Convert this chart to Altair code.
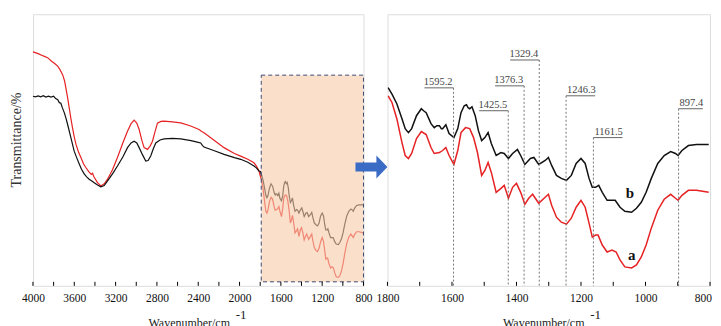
import altair as alt
import pandas as pd

# ---------------- data (wavenumber / cm-1, transmittance in arbitrary units) -------------
wn_b = [4000, 3975, 3950, 3925, 3900, 3875, 3850, 3826, 3800, 3780, 3760, 3745, 3730, 3715,
        3697, 3680, 3665, 3633, 3601, 3575, 3552, 3530, 3504, 3480, 3456, 3430, 3407, 3375,
        3343, 3310, 3278, 3230, 3182, 3130, 3085, 3050, 3021, 2995, 2972, 2940, 2908, 2885,
        2859, 2835, 2811, 2770, 2730, 2650, 2569, 2470, 2400, 2376, 2360, 2344, 2250, 2150,
        2050, 1989, 1920, 1860, 1835, 1812,
        1798, 1786, 1771, 1755, 1745, 1735, 1725, 1710, 1695, 1688, 1680, 1665, 1655, 1647,
        1639, 1633, 1629, 1619, 1609, 1594, 1582, 1572, 1562, 1555, 1550, 1545, 1538, 1528,
        1518, 1508, 1498, 1488, 1478, 1463, 1448, 1438, 1425, 1412, 1397, 1387, 1374, 1357,
        1346, 1331, 1311, 1301, 1291, 1276, 1261, 1245, 1230, 1215, 1200, 1187, 1175, 1165,
        1155, 1145, 1134, 1119, 1104, 1094, 1079, 1064, 1043, 1028, 1013, 998, 982, 962,
        942, 922, 907, 899, 887, 867, 842, 804]
t_b = [328, 327, 328.5, 327, 329, 326.5, 328, 326.5, 328, 324, 322, 317, 316, 308,
       300, 290, 280, 257, 234, 222, 212, 203, 195, 190, 186, 183, 180, 176,
       173, 175, 183, 195, 208.5, 224, 240, 248, 251, 248, 240, 228, 217, 218,
       226, 238, 248, 253, 255, 256, 255, 252, 249, 248, 244, 241, 235, 228.5,
       223, 220, 215, 208.5, 205, 200,
       199.3, 192.7, 183, 168, 158, 154, 158, 171, 178, 176, 174, 163, 159, 161,
       161, 158, 158, 162, 153, 149, 158, 174, 181, 182, 179, 178, 180, 171,
       156, 146, 149, 154, 143, 131, 134, 133, 128, 133, 137, 131, 122, 128,
       129, 122, 126, 129, 121, 111, 108, 106, 111, 123, 128, 123, 108, 99,
       99, 101, 94, 86, 86, 86, 79, 75, 74, 78, 84, 94, 108, 123,
       131, 135, 133, 131, 136, 141, 142, 142]

wn_a = [4000, 3950, 3900, 3858, 3820, 3790, 3761, 3740, 3713, 3695, 3681, 3665, 3649, 3633,
        3617, 3600, 3584, 3560, 3536, 3510, 3488, 3460, 3435, 3423, 3410, 3375, 3343, 3310,
        3278, 3230, 3182, 3130, 3085, 3050, 3021, 2995, 2972, 2945, 2924, 2891, 2865, 2843,
        2820, 2795, 2760, 2730, 2650, 2569, 2473, 2392, 2370, 2344, 2250, 2150, 2050, 1989,
        1920, 1860, 1835, 1812,
        1798, 1786, 1771, 1755, 1745, 1735, 1725, 1710, 1695, 1680, 1665, 1655, 1639, 1629,
        1619, 1609, 1594, 1582, 1572, 1558, 1545, 1533, 1521, 1508, 1498, 1488, 1478, 1463,
        1448, 1438, 1425, 1412, 1400, 1387, 1374, 1362, 1350, 1331, 1311, 1301, 1291, 1276,
        1261, 1245, 1230, 1215, 1200, 1187, 1175, 1165, 1155, 1147, 1134, 1119, 1104, 1091,
        1079, 1064, 1043, 1028, 1013, 998, 982, 962, 942, 922, 907, 899, 887, 867, 842, 804]
t_a = [404, 401, 397, 394, 388, 384, 379.5, 374, 365, 355, 342, 326, 308, 290,
       274, 258, 246, 233, 223, 212, 206, 199, 194, 196, 190, 180, 174.5, 178,
       186, 202, 223, 248, 268, 281, 287, 282, 271, 252, 240, 237, 243, 251,
       266, 282, 285, 285.5, 284, 282.5, 277, 271, 268, 265.5, 253, 240, 230, 225.5,
       220, 214, 208, 200,
       191, 184.3, 168, 144, 131, 128, 133, 148, 155, 152, 139, 133, 134, 136,
       139, 131, 122, 136, 154, 159, 158, 149, 134, 111, 116, 124, 114, 94,
       98, 101, 88, 99, 103, 94, 82, 88, 92, 83, 89, 92, 81, 69,
       64, 62, 68, 79, 86, 79, 63, 49, 51, 51, 41, 34, 36, 34,
       26, 19, 18, 21, 29, 41, 58, 76, 87, 92, 88, 86, 91, 96, 96, 94]

peak_wn = [1595.2, 1425.5, 1376.3, 1329.4, 1246.3, 1161.5, 897.4]
peak_text = ["1595.2", "1425.5", "1376.3", "1329.4", "1246.3", "1161.5", "897.4"]
peak_level = [199, 176, 201, 227, 191, 149, 178]
peak_side = ["left", "left", "left", "left", "right", "right", "right"]

curve_names = ["a", "b"]
curve_label_wn = [1043, 1048]
curve_label_t = [31, 93]

box_wn = [1790]
box_wn2 = [800]
box_t = [10.3]
box_t2 = [364.1]

arrow_wn = [723]
arrow_t = [206.8]

left_tick_vals = [4000, 3800, 3600, 3400, 3200, 3000, 2800, 2600, 2400, 2200, 2000, 1800,
                  1600, 1400, 1200, 1000, 800]
left_label_vals = [4000, 3600, 3200, 2800, 2400, 2000, 1600, 1200, 800]
right_tick_vals = [1800, 1700, 1600, 1500, 1400, 1300, 1200, 1100, 1000, 900, 800]
right_label_vals = [1800, 1600, 1400, 1200, 1000]
right_last_label = [800]

# ---------------- styling ----------------
RED = "#e62224"
BLACK = "#111111"
SERIF = "Liberation Serif"
W1, W2, H = 331, 323, 272
ARROW = "M -1 -0.28 L 0.31 -0.28 L 0.31 -0.72 L 1 0 L 0.31 0.72 L 0.31 0.28 L -1 0.28 Z"
LABEL_PAD = 7
CHAR_PX = 4.85

df = pd.concat([
    pd.DataFrame({"wn": wn_a, "t": t_a, "series": "a"}),
    pd.DataFrame({"wn": wn_b, "t": t_b, "series": "b"}),
], ignore_index=True)

color = alt.Color("series:N", scale=alt.Scale(domain=["a", "b"], range=[RED, BLACK]), legend=None)


def x_enc(domain, labels):
    return alt.X("wn:Q",
                 scale=alt.Scale(domain=domain, reverse=True, nice=False, zero=False),
                 axis=alt.Axis(values=labels, title=None, format="d", ticks=False,
                               domain=False, grid=False, labelPadding=LABEL_PAD,
                               labelFont=SERIF, labelFontSize=11.5, labelColor="#111",
                               labelFlush=False, labelOverlap=False))


def x_title():
    main = alt.Chart(pd.DataFrame({"k": [0]})).mark_text(
        text="Wavenumber/cm", font=SERIF, fontSize=12, color="#222",
        align="center", baseline="alphabetic").encode(x=alt.value(156.5), y=alt.value(313))
    sup = alt.Chart(pd.DataFrame({"k": [0]})).mark_text(
        text="-1", font=SERIF, fontSize=13, color="#222",
        align="left", baseline="alphabetic").encode(x=alt.value(203), y=alt.value(305.5))
    return main, sup


# ---------------- left panel ----------------
xl = x_enc([800, 4000], left_label_vals)
yl = alt.Y("t:Q", scale=alt.Scale(domain=[3.4, 468.4], nice=False, zero=False), axis=None)

l_lines = alt.Chart(df).mark_line(strokeWidth=1.2).encode(
    x=xl, y=yl, color=color, order="wn:Q")

box_df = pd.DataFrame({"wn": box_wn, "wn2": box_wn2, "t": box_t, "t2": box_t2})
l_box = alt.Chart(box_df).mark_rect(
    fill="#f7c9a9", fillOpacity=0.6, stroke="#3d4b70", strokeDash=[4, 3], strokeWidth=1
).encode(x=xl, x2="wn2", y=yl, y2="t2")

l_ticks = alt.Chart(pd.DataFrame({"wn": left_tick_vals})).mark_rule(
    color="#000", strokeWidth=1).encode(x=xl, y=alt.value(H), y2=alt.value(H - 4))

arrow_df = pd.DataFrame({"wn": arrow_wn, "t": arrow_t})
l_arrow = alt.Chart(arrow_df).mark_point(
    shape=ARROW, filled=True, color="#3b6cc5", size=1024, opacity=1, strokeWidth=0
).encode(x=xl, y=yl)

l_ytitle = alt.Chart(pd.DataFrame({"k": [0]})).mark_text(
    text="Transmittance/%", font=SERIF, fontSize=14, color="#333", angle=270,
    align="center", baseline="alphabetic").encode(x=alt.value(-12), y=alt.value(126))

lt1, lt2 = x_title()
left = alt.layer(l_lines, l_box, l_ticks, l_arrow, l_ytitle, lt1, lt2).properties(
    width=W1, height=H)

# ---------------- right panel ----------------
xr = x_enc([800, 1800], right_label_vals)
yr = alt.Y("t:Q", scale=alt.Scale(domain=[0, 273], nice=False, zero=False), axis=None)

r_lines = alt.Chart(df).transform_filter(alt.datum.wn <= 1800).mark_line(
    strokeWidth=1.5, clip=True).encode(x=xr, y=yr, color=color, order="wn:Q")

r_ticks = alt.Chart(pd.DataFrame({"wn": right_tick_vals})).mark_rule(
    color="#000", strokeWidth=1).encode(x=xr, y=alt.value(H), y2=alt.value(H - 4))

r_last = alt.Chart(pd.DataFrame({"wn": right_last_label})).mark_text(
    font=SERIF, fontSize=11.5, color="#111", align="right", baseline="top", dx=2
).encode(x=xr, y=alt.value(H + LABEL_PAD), text="wn:Q")

pk = pd.DataFrame({"wn": peak_wn, "t": peak_level, "label": peak_text, "side": peak_side})
pk["ulen"] = pk["label"].str.len() * CHAR_PX * 1000.0 / W2
pk["wn2"] = pk.apply(lambda r: r["wn"] + r["ulen"] if r["side"] == "left" else r["wn"] - r["ulen"], axis=1)

r_vlines = alt.Chart(pk).mark_rule(color="#777", strokeDash=[2, 2], strokeWidth=1).encode(
    x=xr, y=yr, y2=alt.value(H))
r_ulines = alt.Chart(pk).mark_rule(color="#666", strokeWidth=1).encode(x=xr, x2="wn2", y=yr)
r_text_l = alt.Chart(pk).transform_filter(alt.datum.side == "left").mark_text(
    font=SERIF, fontSize=10.5, color="#444", align="right", baseline="alphabetic",
    dx=-1, dy=-3).encode(x=xr, y=yr, text="label:N")
r_text_r = alt.Chart(pk).transform_filter(alt.datum.side == "right").mark_text(
    font=SERIF, fontSize=10.5, color="#444", align="left", baseline="alphabetic",
    dx=1, dy=-3).encode(x=xr, y=yr, text="label:N")

cl = pd.DataFrame({"wn": curve_label_wn, "t": curve_label_t, "label": curve_names})
r_curve_lbl = alt.Chart(cl).mark_text(
    font=SERIF, fontSize=15, fontWeight="bold", color="#111", align="center",
    baseline="middle").encode(x=xr, y=yr, text="label:N")

rt1, rt2 = x_title()
right = alt.layer(r_lines, r_vlines, r_ulines, r_text_l, r_text_r, r_curve_lbl,
                  r_ticks, r_last, rt1, rt2).properties(width=W2, height=H)

chart = alt.hconcat(left, right, spacing=24, bounds="flush").properties(
    padding={"left": 1, "top": 5, "right": 0, "bottom": 0}
).configure_view(stroke="#000", strokeWidth=1).configure(background="white")

chart.save("out.html", embed_options={"renderer": "svg", "actions": False})
